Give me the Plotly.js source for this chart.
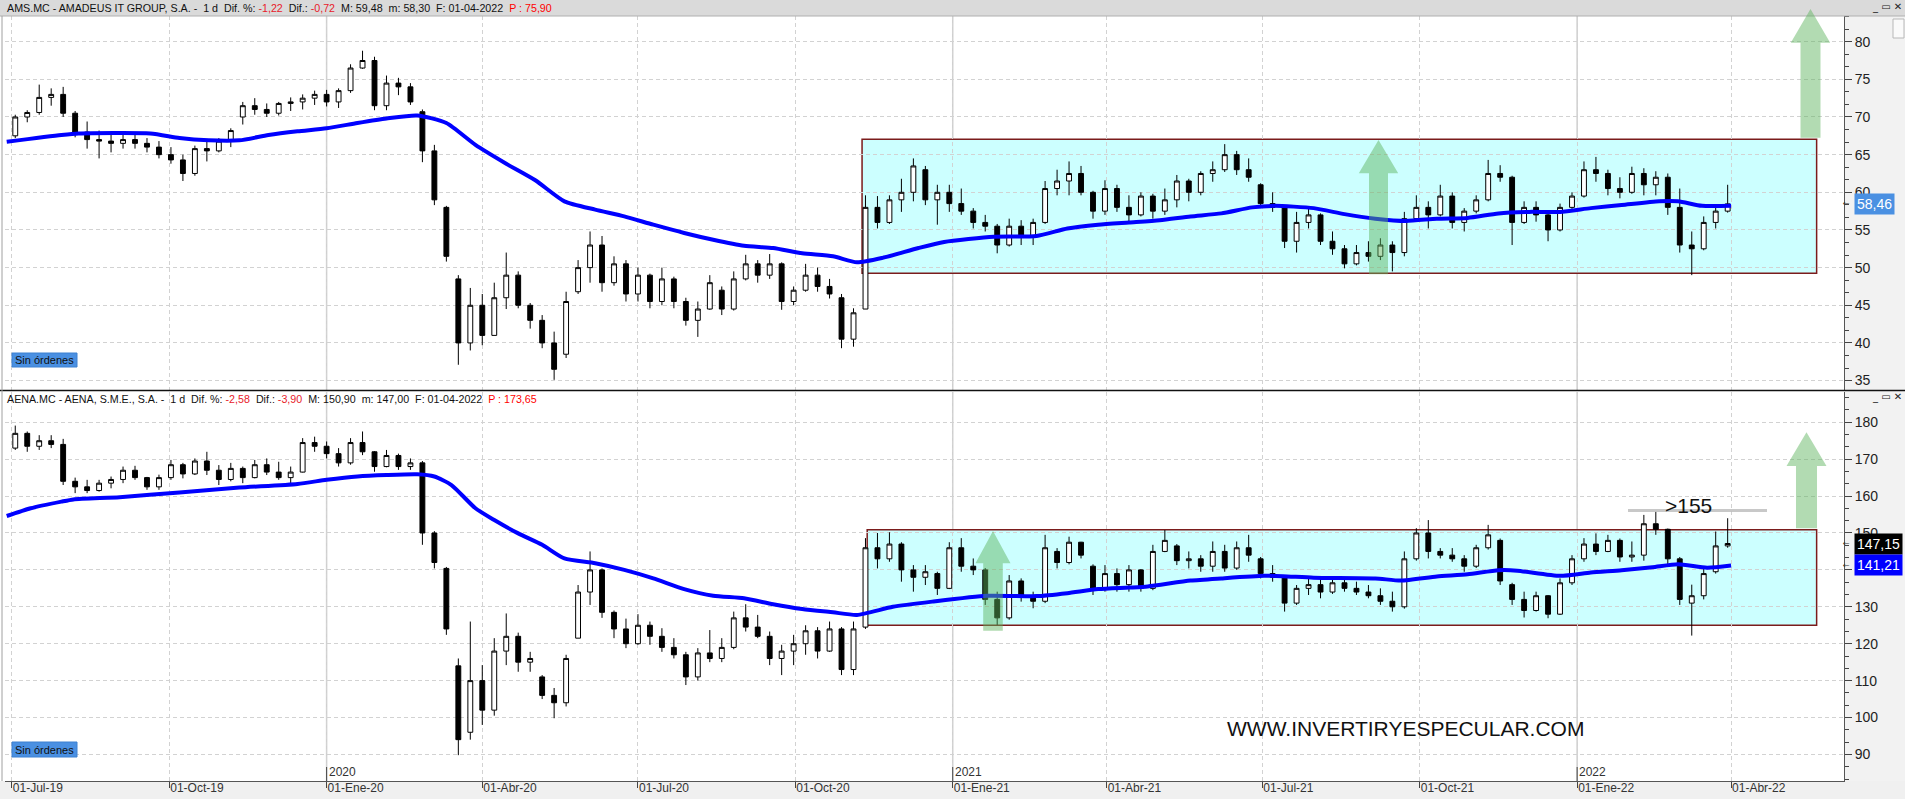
<!DOCTYPE html>
<html><head><meta charset="utf-8">
<script src="https://cdn.plot.ly/plotly-3.0.1.min.js"></script>
<style>html,body{margin:0;padding:0;background:#fff;overflow:hidden}#chart{width:1905px;height:799px}</style>
</head><body><div id="chart"></div>
<script>
const weeks = ['2019-07-03','2019-07-10','2019-07-17','2019-07-24','2019-07-31','2019-08-07','2019-08-14','2019-08-21','2019-08-28','2019-09-04','2019-09-11','2019-09-18','2019-09-25','2019-10-02','2019-10-09','2019-10-16','2019-10-23','2019-10-30','2019-11-06','2019-11-13','2019-11-20','2019-11-27','2019-12-04','2019-12-11','2019-12-18','2019-12-25',
'2020-01-01','2020-01-08','2020-01-15','2020-01-22','2020-01-29','2020-02-05','2020-02-12','2020-02-19','2020-02-26','2020-03-04','2020-03-11','2020-03-18','2020-03-25','2020-04-01','2020-04-08','2020-04-15','2020-04-22','2020-04-29','2020-05-06','2020-05-13','2020-05-20','2020-05-27','2020-06-03','2020-06-10','2020-06-17','2020-06-24','2020-07-01','2020-07-08','2020-07-15','2020-07-22','2020-07-29','2020-08-05','2020-08-12','2020-08-19','2020-08-26','2020-09-02','2020-09-09','2020-09-16','2020-09-23','2020-09-30','2020-10-07','2020-10-14','2020-10-21','2020-10-28','2020-11-04','2020-11-11','2020-11-18','2020-11-25','2020-12-02','2020-12-09','2020-12-16','2020-12-23','2020-12-30',
'2021-01-06','2021-01-13','2021-01-20','2021-01-27','2021-02-03','2021-02-10','2021-02-17','2021-02-24','2021-03-03','2021-03-10','2021-03-17','2021-03-24','2021-03-31','2021-04-07','2021-04-14','2021-04-21','2021-04-28','2021-05-05','2021-05-12','2021-05-19','2021-05-26','2021-06-02','2021-06-09','2021-06-16','2021-06-23','2021-06-30','2021-07-07','2021-07-14','2021-07-21','2021-07-28','2021-08-04','2021-08-11','2021-08-18','2021-08-25','2021-09-01','2021-09-08','2021-09-15','2021-09-22','2021-09-29','2021-10-06','2021-10-13','2021-10-20','2021-10-27','2021-11-03','2021-11-10','2021-11-17','2021-11-24','2021-12-01','2021-12-08','2021-12-15','2021-12-22','2021-12-29',
'2022-01-05','2022-01-12','2022-01-19','2022-01-26','2022-02-02','2022-02-09','2022-02-16','2022-02-23','2022-03-02','2022-03-09','2022-03-16','2022-03-23','2022-03-30'];

// AMADEUS (AMS.MC) weekly candles
const amsOpen = [67.5,70.0,70.6,72.6,73.0,70.5,68.0,67.0,66.8,66.5,67.0,66.5,66.0,65.0,64.3,62.5,65.8,65.5,66.8,70.0,71.5,71.0,70.5,71.8,72.0,72.5,
73.0,72.0,73.5,76.5,77.5,71.5,74.5,74.0,70.7,65.5,58.0,48.5,40.0,45.0,41.0,46.0,49.0,45.0,43.0,40.0,38.5,46.8,50.0,53.0,48.0,50.5,46.5,49.0,45.5,48.5,45.5,43.0,44.5,47.0,44.5,48.5,50.5,49.0,50.5,45.5,47.0,49.0,47.5,46.0,40.5,44.5,58.0,56.0,59.0,60.0,63.0,59.0,60.0,
58.5,57.5,56.0,55.5,53.0,55.5,54.0,56.0,60.5,61.5,62.5,60.0,57.5,60.5,58.0,57.0,59.5,57.5,59.0,61.5,60.0,62.5,63.0,65.0,63.0,61.0,58.5,58.0,53.5,56.0,57.0,53.5,52.5,50.5,52.0,51.5,53.0,52.0,56.5,58.0,57.0,59.5,56.0,57.5,59.0,62.5,62.0,56.0,58.0,57.0,55.0,58.0,
59.5,63.0,62.5,60.5,60.0,62.5,61.0,62.0,58.0,53.0,52.5,56.0,57.5];
const amsHigh = [70.3,70.9,74.3,73.8,74.0,70.8,69.4,68.2,67.8,67.8,68.0,67.2,66.8,66.0,65.0,66.2,66.8,67.2,68.5,72.0,72.5,71.8,72.0,72.6,73.0,73.5,
73.6,73.8,77.0,78.8,78.0,75.5,75.2,74.5,71.0,66.3,58.2,49.0,47.3,46.5,48.0,52.0,49.5,45.3,43.7,41.5,46.8,51.0,54.8,54.2,51.5,51.0,50.0,49.2,50.0,48.8,46.0,45.5,49.0,47.5,49.5,51.7,51.0,51.8,50.7,47.5,50.5,50.0,48.5,46.5,44.6,59.6,59.5,59.6,61.8,64.5,63.5,61.0,61.0,
60.5,57.9,57.0,55.8,56.5,56.3,56.5,61.5,63.0,64.1,63.5,60.2,61.6,61.0,59.6,60.0,59.8,60.5,62.3,61.8,62.8,64.1,66.4,65.5,64.5,61.2,60.0,58.2,57.4,57.9,57.2,54.8,53.0,53.0,53.5,53.9,53.5,57.4,59.6,58.8,61.0,60.0,57.9,59.6,64.3,63.6,62.2,58.8,58.8,57.2,58.5,60.0,
64.1,64.7,63.0,62.0,63.4,63.2,62.8,62.5,60.5,54.8,56.8,58.3,61.0];
const amsLow = [67.2,69.3,70.3,71.5,70.0,67.3,65.8,64.5,65.3,65.8,65.8,65.3,64.5,63.8,61.5,62.2,64.1,65.3,66.0,69.0,70.3,70.0,70.2,70.8,71.0,71.6,
71.4,71.2,73.2,76.4,70.9,70.9,72.9,71.6,64.0,58.3,50.8,37.1,39.0,39.7,41.0,44.5,44.6,41.9,39.3,35.1,38.0,46.5,48.0,46.8,47.6,45.5,45.5,44.6,45.0,44.6,42.3,40.8,44.4,43.7,44.3,48.3,48.0,48.5,44.4,45.0,46.8,46.8,45.9,39.3,39.5,44.5,55.2,55.8,57.4,58.8,58.3,55.7,57.4,
57.0,55.2,54.8,51.9,52.8,53.0,53.0,55.8,59.6,59.6,59.6,56.5,57.0,57.4,56.1,56.8,56.5,57.0,58.0,58.8,59.6,61.4,62.7,62.3,61.4,57.9,57.4,52.6,52.0,55.2,53.0,51.7,49.9,50.3,50.8,51.0,49.5,51.5,56.1,55.2,56.8,55.2,54.8,57.2,58.8,61.4,53.0,55.8,56.1,53.5,54.8,57.8,
59.3,61.4,59.6,59.2,59.8,59.6,59.6,57.0,52.0,49.0,52.3,55.2,57.3];
const amsClose = [70.0,70.6,72.6,73.0,70.5,68.0,67.0,66.8,66.5,67.0,66.5,66.0,65.0,64.3,62.5,65.8,65.5,66.8,68.2,71.5,71.0,70.5,71.8,72.0,72.5,73.0,
72.0,73.5,76.5,77.5,71.5,74.5,74.0,72.0,65.5,59.0,51.5,40.0,45.0,41.0,46.0,49.0,45.0,43.0,40.0,36.5,45.5,50.0,53.0,48.0,50.5,46.5,49.0,45.5,48.5,45.5,43.0,44.5,48.0,44.5,48.5,50.5,49.0,50.5,45.5,47.0,49.0,47.5,46.5,40.5,44.0,58.0,56.0,59.0,60.0,63.5,59.0,60.0,58.5,
57.5,56.0,55.5,53.0,55.5,54.0,56.0,60.5,61.5,62.5,60.0,57.5,60.5,58.0,57.0,59.5,57.5,59.0,61.5,60.0,62.5,63.0,65.0,63.0,62.0,58.5,58.0,53.5,56.0,57.0,53.5,52.5,50.5,52.0,51.5,53.0,52.0,56.5,58.0,57.0,59.5,56.0,57.5,59.0,62.5,62.0,56.0,58.0,57.0,55.0,58.0,59.5,
63.0,62.5,60.5,60.0,62.5,61.0,62.0,58.0,53.0,52.5,56.0,57.5,58.46];

// AENA (AENA.MC) weekly candles
const aenaOpen = [173.0,177.0,173.5,175.0,174.0,164.0,162.5,161.5,163.5,164.5,167.0,165.0,162.5,165.0,168.5,166.0,169.5,167.0,164.5,167.5,165.0,168.5,166.5,165.0,166.5,174.5,
173.5,171.5,169.0,174.5,172.0,168.0,171.0,168.0,169.0,150.0,140.4,114.0,96.0,110.0,102.0,118.0,122.0,115.0,111.0,106.0,104.0,121.5,134.0,140.0,128.5,124.0,120.0,125.0,122.0,119.0,117.0,111.0,117.5,116.0,119.0,127.0,124.5,122.0,116.0,118.0,120.0,123.5,118.0,124.0,113.0,124.5,146.0,143.0,147.0,140.0,138.0,139.0,135.0,
146.0,141.0,140.0,132.0,127.0,137.0,133.0,131.5,145.0,142.0,147.5,141.0,135.0,139.0,136.0,140.0,135.0,145.0,146.5,142.5,143.0,141.0,145.0,140.5,146.0,143.0,139.0,138.0,131.0,135.0,136.0,134.0,136.5,135.0,134.0,133.0,131.5,130.0,143.0,150.0,145.0,144.0,143.0,141.0,146.0,148.0,136.0,132.0,129.0,133.0,128.0,136.5,
143.0,147.0,145.0,148.0,143.5,144.0,152.5,151.0,143.0,131.0,133.0,139.5,146.5];
const aenaHigh = [179.1,177.5,176.5,176.5,175.5,165.0,164.4,164.4,165.3,168.0,168.2,165.2,165.8,169.8,169.0,170.2,172.0,168.4,169.0,168.0,169.8,170.2,169.3,168.0,175.7,176.1,
174.8,173.0,175.7,177.5,172.2,172.5,171.5,170.2,169.5,150.5,140.8,116.0,126.0,114.2,121.5,128.2,123.0,117.8,111.5,108.0,117.0,135.9,145.0,140.4,129.0,126.8,128.0,126.0,124.2,121.5,117.8,118.8,123.7,121.5,128.7,130.7,127.8,123.3,119.7,122.4,125.0,124.5,126.0,124.5,126.0,148.6,150.0,150.2,147.5,141.3,141.3,139.5,147.5,
148.6,143.1,140.5,134.1,138.6,137.7,134.1,149.5,145.9,149.0,147.6,141.5,141.3,140.4,141.3,140.2,146.8,150.8,147.0,145.0,144.0,147.7,146.8,147.7,149.5,143.5,141.3,138.2,135.9,137.7,137.7,137.7,137.7,136.8,135.9,135.0,134.1,145.0,151.3,153.5,145.9,145.9,144.0,146.8,152.2,148.5,136.5,134.1,134.1,133.2,137.7,
144.0,148.6,149.9,149.5,148.5,147.7,154.9,155.8,151.2,143.5,136.0,140.4,150.4,154.0];
const aenaLow = [172.5,172.0,172.5,173.0,163.0,160.8,160.8,161.2,162.1,163.5,164.4,161.7,161.7,164.4,164.8,165.7,165.7,163.0,164.0,163.5,164.8,165.7,164.4,163.0,166.4,172.0,
170.2,168.0,168.5,171.1,166.6,167.8,167.1,167.1,146.8,140.4,122.4,89.8,94.0,98.0,100.5,114.2,112.4,112.4,105.0,99.8,103.0,121.5,130.5,127.0,121.5,118.8,119.7,119.7,117.8,116.0,108.8,110.0,115.0,115.0,118.5,123.3,121.5,114.2,111.5,114.2,117.0,116.0,117.8,111.5,111.5,124.0,140.4,142.2,136.8,134.1,135.9,133.2,134.8,
139.5,138.6,130.5,125.1,126.5,131.4,129.6,131.0,140.4,141.5,143.1,133.2,134.1,134.1,134.1,134.1,134.5,144.8,141.3,140.4,139.5,139.5,139.5,140.0,142.2,137.7,136.8,128.7,130.5,133.2,132.3,133.5,134.1,133.2,132.3,130.5,128.7,129.5,142.5,143.1,143.1,142.2,139.5,140.5,145.5,135.9,130.5,127.1,128.7,126.9,127.8,
135.9,142.2,144.0,144.8,142.2,142.2,142.5,149.5,141.3,130.5,122.2,132.0,139.0,146.0];
const aenaClose = [177.0,173.5,175.0,174.0,164.0,162.5,161.5,163.5,164.5,167.0,165.0,162.5,165.0,168.5,166.0,169.5,167.0,164.5,167.5,165.0,168.5,166.5,165.0,166.5,174.5,173.5,
171.5,169.0,174.5,172.0,168.0,171.0,168.0,169.0,150.0,142.0,124.0,94.0,110.0,102.0,118.0,122.0,115.0,116.0,106.0,104.0,116.0,134.0,140.0,128.5,124.0,120.0,125.0,122.0,119.0,117.0,111.0,117.5,116.0,119.0,127.0,124.5,122.0,116.0,118.0,120.0,123.5,118.0,124.0,113.0,124.0,146.0,143.0,147.0,140.0,138.0,139.5,135.0,146.0,
141.0,140.0,132.0,127.0,137.0,133.0,131.5,146.0,142.0,147.5,144.0,135.0,139.0,136.0,140.0,135.0,145.0,148.0,142.5,143.0,141.0,145.0,140.5,146.0,144.0,139.0,138.0,131.0,135.0,136.0,134.0,136.5,135.0,134.0,133.0,131.5,130.0,143.0,150.0,145.0,144.0,143.0,141.0,146.0,149.5,137.0,132.0,129.0,133.0,128.0,136.5,143.0,
147.0,145.0,148.0,143.5,144.0,152.5,151.0,143.0,132.0,133.0,139.0,146.5,147.15];

// 200-session moving averages (blue lines)
const amsMaDates = ['2019-06-28','2019-07-30','2019-08-09','2019-09-20','2019-10-07','2019-10-24','2019-11-11','2019-11-28','2019-12-15','2020-01-01','2020-01-19','2020-02-05','2020-02-23','2020-03-11','2020-03-28','2020-04-15','2020-05-02','2020-05-19','2020-06-06','2020-06-23','2020-07-10','2020-07-28','2020-08-14','2020-09-01','2020-09-18','2020-10-05','2020-10-23','2020-11-06','2020-11-21','2020-12-12','2020-12-27','2021-01-25','2021-02-19','2021-03-09','2021-03-27','2021-04-14','2021-05-02','2021-05-20','2021-06-07','2021-06-25','2021-07-08','2021-07-31','2021-08-18','2021-09-05','2021-09-23','2021-10-11','2021-10-29','2021-11-16','2021-12-04','2021-12-22','2022-01-09','2022-01-27','2022-02-18','2022-03-01','2022-03-15','2022-04-01'];
const amsMa = [66.7,67.6,67.8,67.8,67.2,66.9,66.9,67.6,68.1,68.5,69.2,69.8,70.2,69.2,66.3,63.8,61.6,58.8,57.7,56.8,55.7,54.6,53.7,52.9,52.6,51.9,51.5,50.7,51.3,52.6,53.4,54.1,54.2,55.2,55.7,56.0,56.3,56.8,57.2,58.0,58.2,57.9,57.1,56.5,56.2,56.5,56.6,57.2,57.4,57.4,57.9,58.3,58.8,58.8,58.2,58.2];
const aenaMaDates = ['2019-06-28','2019-07-12','2019-07-30','2019-08-06','2019-09-02','2019-10-07','2019-11-11','2019-12-15','2020-01-01','2020-01-19','2020-02-05','2020-02-23','2020-03-04','2020-03-14','2020-03-28','2020-04-08','2020-04-22','2020-05-06','2020-05-19','2020-06-06','2020-06-23','2020-07-10','2020-07-28','2020-08-14','2020-09-01','2020-09-18','2020-10-05','2020-10-23','2020-11-06','2020-11-27','2020-12-20','2021-01-21','2021-02-19','2021-03-09','2021-03-27','2021-04-14','2021-04-25','2021-05-20','2021-06-07','2021-07-02','2021-07-13','2021-07-31','2021-09-05','2021-09-20','2021-10-11','2021-10-29','2021-11-16','2021-11-27','2021-12-22','2022-01-09','2022-01-27','2022-02-14','2022-03-01','2022-03-18','2022-04-01'];
const aenaMa = [154.6,156.7,158.5,159.1,159.7,161.0,162.3,163.3,164.4,165.3,165.7,165.9,165.3,163.0,156.7,153.5,149.9,146.8,143.1,141.8,140.0,137.7,134.8,133.0,132.3,130.7,129.4,128.5,127.8,130.0,131.4,133.0,132.9,133.7,134.8,135.2,135.5,137.1,137.7,138.4,138.3,137.9,137.7,137.1,138.2,138.8,139.9,139.8,138.4,139.3,139.9,140.7,141.5,140.6,141.2];

// Axis ticks and labels
const quarterTicks = ['2019-07-01','2019-10-01','2020-01-01','2020-04-01','2020-07-01','2020-10-01','2021-01-01','2021-04-01','2021-07-01','2021-10-01','2022-01-01','2022-04-01'];
const quarterLabels = ['01-Jul-19','01-Oct-19','01-Ene-20','01-Abr-20','01-Jul-20','01-Oct-20','01-Ene-21','01-Abr-21','01-Jul-21','01-Oct-21','01-Ene-22','01-Abr-22'];
const yearTicks = ['2020-01-01','2021-01-01','2022-01-01'];
const yearLabels = ['2020','2021','2022'];

// Range boxes and last values
const amsBox = {x0:'2020-11-09', x1:'2022-05-21', y0:49.25, y1:67.04};
const aenaBox = {x0:'2020-11-12', x1:'2022-05-21', y0:125.0, y1:150.9};
const amsLast = 58.46, aenaLast = 147.15, aenaMaLast = 141.21;

const W = 1905, H = 799;
const px = x => x / W;
const py = y => 1 - y / H;
const FONT = 'Liberation Sans, Arial, sans-serif';

const candleStyle = {
  increasing: {line: {color: '#000', width: 1}, fillcolor: '#ffffff'},
  decreasing: {line: {color: '#000', width: 1}, fillcolor: '#000000'},
  whiskerwidth: 0, hoverinfo: 'skip', showlegend: false
};

const traces = [
  Object.assign({type: 'candlestick', x: weeks, open: amsOpen, high: amsHigh, low: amsLow, close: amsClose, xaxis: 'x2', yaxis: 'y2'}, candleStyle),
  {type: 'scatter', mode: 'lines', x: amsMaDates, y: amsMa, xaxis: 'x2', yaxis: 'y2', line: {color: '#0000ff', width: 4, shape: 'spline', smoothing: 0.6}, hoverinfo: 'skip', showlegend: false},
  Object.assign({type: 'candlestick', x: weeks, open: aenaOpen, high: aenaHigh, low: aenaLow, close: aenaClose, xaxis: 'x', yaxis: 'y'}, candleStyle),
  {type: 'scatter', mode: 'lines', x: aenaMaDates, y: aenaMa, xaxis: 'x', yaxis: 'y', line: {color: '#0000ff', width: 4, shape: 'spline', smoothing: 0.6}, hoverinfo: 'skip', showlegend: false}
];

function arrow(tx, ty, hw, sw, hb, bot) {
  const p = [[tx, ty], [tx + hw, hb], [tx + sw, hb], [tx + sw, bot], [tx - sw, bot], [tx - sw, hb], [tx - hw, hb]];
  return {type: 'path', xref: 'paper', yref: 'paper', layer: 'above',
    path: 'M' + p.map(q => px(q[0]).toFixed(5) + ',' + py(q[1]).toFixed(5)).join(' L') + ' Z',
    fillcolor: 'rgba(95,180,95,0.48)', line: {width: 0}};
}
function rectPx(x0, y0, x1, y1, fill, line, layer) {
  return {type: 'rect', xref: 'paper', yref: 'paper', x0: px(x0), x1: px(x1), y0: py(y1), y1: py(y0),
    fillcolor: fill, line: line || {width: 0}, layer: layer || 'above'};
}
function linePx(x0, y0, x1, y1, color, width) {
  return {type: 'line', xref: 'paper', yref: 'paper', x0: px(x0), x1: px(x1), y0: py(y0), y1: py(y1), line: {color: color, width: width}, layer: 'above'};
}

const shapes = [
  rectPx(1844, 16, 1905, 390, '#f2f2f2', null, 'below'),
  rectPx(1844, 391, 1905, 781, '#f2f2f2', null, 'below'),
  rectPx(0, 781, 1905, 799, '#f0f0f0', null, 'below'),
  {type: 'rect', xref: 'x2', yref: 'y2', x0: amsBox.x0, x1: amsBox.x1, y0: amsBox.y0, y1: amsBox.y1, fillcolor: '#ccffff', line: {color: '#7b1c1c', width: 1.5}, layer: 'below'},
  {type: 'rect', xref: 'x', yref: 'y', x0: aenaBox.x0, x1: aenaBox.x1, y0: aenaBox.y0, y1: aenaBox.y1, fillcolor: '#ccffff', line: {color: '#7b1c1c', width: 1.5}, layer: 'below'},
];
yearTicks.forEach(d => {
  shapes.push({type: 'line', xref: 'x', yref: 'paper', x0: d, x1: d, y0: py(390), y1: py(16), line: {color: '#cfcfcf', width: 1.5}, layer: 'below'});
  shapes.push({type: 'line', xref: 'x', yref: 'paper', x0: d, x1: d, y0: py(781), y1: py(392), line: {color: '#cfcfcf', width: 1.5}, layer: 'below'});
  shapes.push({type: 'line', xref: 'x', yref: 'paper', x0: d, x1: d, y0: py(781), y1: py(767), line: {color: '#444', width: 1}, layer: 'above'});
});
shapes.push(
  rectPx(0, 0, 1905, 16, '#dadada'),
  linePx(0, 16, 1905, 16, '#b0b0b0', 1),
  linePx(0, 390.5, 1905, 390.5, '#111', 1.6),
  linePx(2, 16, 2, 781, '#a0a0a0', 1),
  linePx(1628, 510.5, 1767, 510.5, 'rgba(190,190,190,0.85)', 3),
  rectPx(12, 353, 77, 367, '#4a90e2', {color: '#3d80d0', width: 1}),
  rectPx(12, 742, 77, 757, '#4a90e2', {color: '#3d80d0', width: 1}),
  arrow(1810.5, 9, 19.7, 10, 42.7, 137.7),
  arrow(1378.5, 140, 19.7, 9.5, 173.3, 274.3),
  arrow(993, 531, 17.5, 9.8, 563.3, 630.7),
  arrow(1806.5, 432.3, 20, 10.5, 466, 528.3),
  rectPx(1893, 19, 1904, 38, '#fafafa', {color: '#b8b8b8', width: 1})
);

const red = '#e8202a';
const sp = '\u00a0';
const annotations = [
  {xref: 'paper', yref: 'paper', x: px(5), y: py(8), xanchor: 'left', yanchor: 'middle', showarrow: false,
   font: {family: FONT, size: 10.7, color: '#111'},
   text: 'AMS.MC - AMADEUS IT GROUP, S.A. -' + sp + ' 1 d' + sp + ' Dif. %: <span style="color:' + red + '">-1,22</span>' + sp + ' Dif.: <span style="color:' + red + '">-0,72</span>' + sp + ' M: 59,48' + sp + ' m: 58,30' + sp + ' F: 01-04-2022' + sp + ' <span style="color:#ff0000">P : 75,90</span>'},
  {xref: 'paper', yref: 'paper', x: px(5), y: py(399), xanchor: 'left', yanchor: 'middle', showarrow: false,
   font: {family: FONT, size: 10.7, color: '#111'},
   text: 'AENA.MC - AENA, S.M.E., S.A. -' + sp + ' 1 d' + sp + ' Dif. %: <span style="color:' + red + '">-2,58</span>' + sp + ' Dif.: <span style="color:' + red + '">-3,90</span>' + sp + ' M: 150,90' + sp + ' m: 147,00' + sp + ' F: 01-04-2022' + sp + ' <span style="color:#ff0000">P : 173,65</span>'},
  {xref: 'paper', yref: 'paper', x: px(44.5), y: py(360), xanchor: 'center', yanchor: 'middle', showarrow: false, font: {family: FONT, size: 11, color: '#111'}, text: 'Sin órdenes'},
  {xref: 'paper', yref: 'paper', x: px(44.5), y: py(749.5), xanchor: 'center', yanchor: 'middle', showarrow: false, font: {family: FONT, size: 11, color: '#111'}, text: 'Sin órdenes'},
  {xref: 'paper', yref: 'paper', x: px(1688), y: py(505), xanchor: 'center', yanchor: 'middle', showarrow: false, font: {family: FONT, size: 21, color: '#111'}, text: '&gt;155'},
  {xref: 'paper', yref: 'paper', x: px(1405), y: py(728.5), xanchor: 'center', yanchor: 'middle', showarrow: false, font: {family: FONT, size: 21, color: '#111'}, text: 'WWW.INVERTIRYESPECULAR.COM'},
  {xref: 'paper', yref: 'y2', x: px(1854), y: amsLast, xanchor: 'left', yanchor: 'middle', showarrow: false, bgcolor: '#4a90e2', borderpad: 2, font: {family: FONT, size: 14, color: '#fff'}, text: '58,46'},
  {xref: 'paper', yref: 'y', x: px(1854), y: aenaLast, xanchor: 'left', yanchor: 'middle', showarrow: false, bgcolor: '#000000', borderpad: 2, font: {family: FONT, size: 14, color: '#fff'}, text: '147,15'},
  {xref: 'paper', yref: 'y', x: px(1854), y: aenaMaLast, xanchor: 'left', yanchor: 'middle', showarrow: false, bgcolor: '#0000ff', borderpad: 2, font: {family: FONT, size: 14, color: '#fff'}, text: '141,21'},
  {xref: 'paper', yref: 'y2', x: px(1852), y: amsLast, xanchor: 'right', yanchor: 'middle', showarrow: false, font: {family: 'DejaVu Sans', size: 8, color: '#333'}, text: '←'},
  {xref: 'paper', yref: 'y', x: px(1852), y: aenaLast, xanchor: 'right', yanchor: 'middle', showarrow: false, font: {family: 'DejaVu Sans', size: 8, color: '#333'}, text: '←'},
  {xref: 'paper', yref: 'y', x: px(1852), y: aenaMaLast, xanchor: 'right', yanchor: 'middle', showarrow: false, font: {family: 'DejaVu Sans', size: 8, color: '#333'}, text: '←'},
  {xref: 'paper', yref: 'paper', x: px(1904), y: py(7), xanchor: 'right', yanchor: 'middle', showarrow: false, font: {family: 'DejaVu Sans', size: 10, color: '#222'}, text: '_ ▭ ✕'},
  {xref: 'paper', yref: 'paper', x: px(1904), y: py(397), xanchor: 'right', yanchor: 'middle', showarrow: false, font: {family: 'DejaVu Sans', size: 10, color: '#222'}, text: '_ ▭ ✕'}
];
yearTicks.forEach((d, i) => annotations.push({xref: 'x', yref: 'paper', x: d, y: py(772), xanchor: 'left', yanchor: 'middle', showarrow: false, font: {family: FONT, size: 12, color: '#333'}, text: yearLabels[i]}));

const xCommon = {
  type: 'date', range: ['2019-06-27', '2022-06-06'], domain: [px(5), px(1844)],
  tickvals: quarterTicks, showgrid: true, gridcolor: '#d2d2d2', griddash: '4px,3px', gridwidth: 1,
  zeroline: false, rangeslider: {visible: false}, fixedrange: true
};
const layout = {
  width: W, height: H, margin: {l: 0, r: 0, t: 0, b: 0, pad: 0},
  paper_bgcolor: '#ffffff', plot_bgcolor: 'rgba(0,0,0,0)', showlegend: false,
  font: {family: FONT, size: 12, color: '#222'},
  boxgap: 0.42, boxgroupgap: 0.3,
  xaxis: Object.assign({}, xCommon, {anchor: 'y', ticktext: quarterLabels, ticks: 'outside', ticklen: 6, tickcolor: '#444', tickwidth: 1,
    ticklabelposition: 'outside right', ticklabelstandoff: -4, tickfont: {family: FONT, size: 12, color: '#333'},
    showline: true, linecolor: '#555', linewidth: 1}),
  xaxis2: Object.assign({}, xCommon, {anchor: 'y2', matches: 'x', showticklabels: false, ticks: ''}),
  yaxis2: {domain: [py(390), py(16)], range: [33.75, 83.41], anchor: 'x2', side: 'right', dtick: 5, tick0: 0,
    ticks: 'outside', ticklen: 7, tickcolor: '#444', showline: true, linecolor: '#555', linewidth: 1,
    minor: {dtick: 5 / 3, tick0: 0, ticks: 'outside', ticklen: 4, tickcolor: '#444', showgrid: false},
    showgrid: true, gridcolor: '#d2d2d2', griddash: '4px,3px', zeroline: false, fixedrange: true,
    tickfont: {family: FONT, size: 14, color: '#222'}},
  yaxis: {domain: [py(781), py(392)], range: [82.8, 188.2], anchor: 'x', side: 'right', dtick: 10, tick0: 0,
    ticks: 'outside', ticklen: 7, tickcolor: '#444', showline: true, linecolor: '#555', linewidth: 1,
    minor: {dtick: 10 / 3, tick0: 0, ticks: 'outside', ticklen: 4, tickcolor: '#444', showgrid: false},
    showgrid: true, gridcolor: '#d2d2d2', griddash: '4px,3px', zeroline: false, fixedrange: true,
    tickfont: {family: FONT, size: 14, color: '#222'}},
  shapes: shapes,
  annotations: annotations,
  hovermode: false
};
Plotly.newPlot('chart', traces, layout, {displayModeBar: false, staticPlot: true});
</script>
</body></html>
